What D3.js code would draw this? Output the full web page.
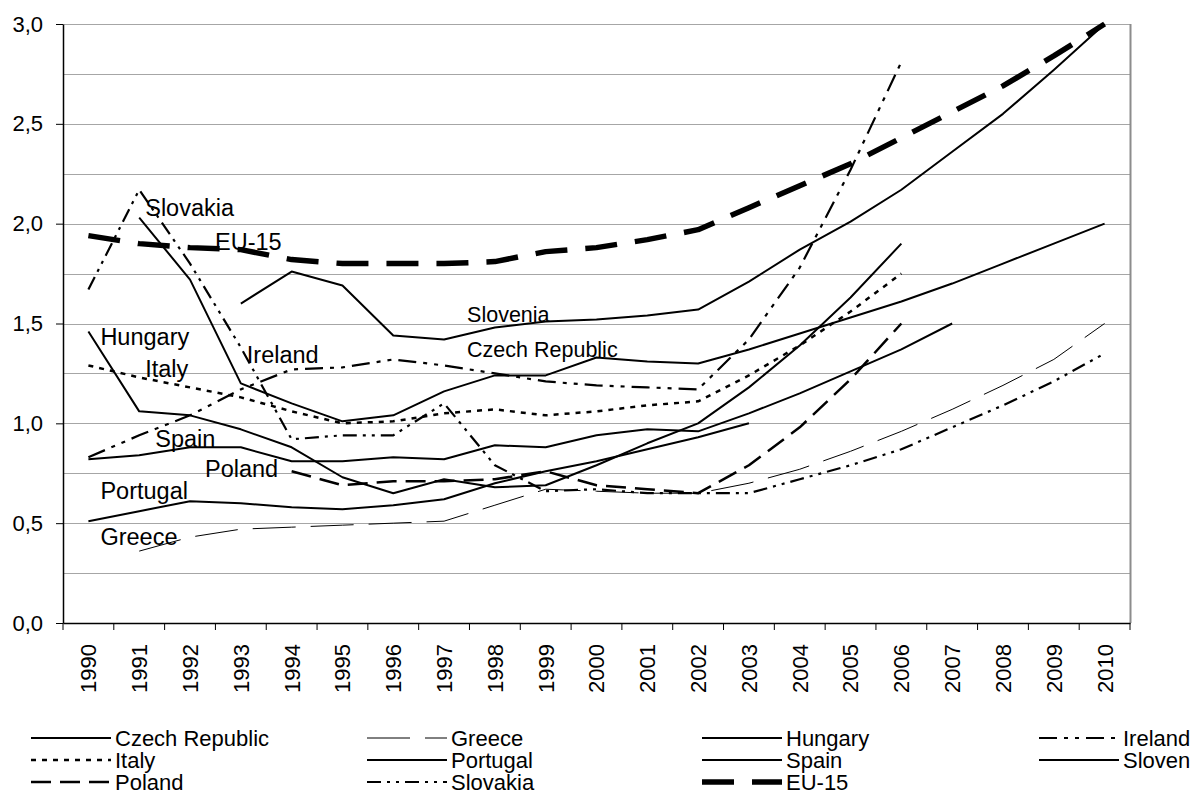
<!DOCTYPE html>
<html>
<head>
<meta charset="utf-8">
<script src="https://cdn.jsdelivr.net/npm/d3@7"></script>
<style>
  body { margin: 0; background: #fff; }
  svg { display: block; font-family: "Liberation Sans", Arial, sans-serif; }
</style>
</head>
<body>
<svg id="chart" width="1190" height="794"></svg>
<script>
// categories
const years = ["1990", "1991", "1992", "1993", "1994", "1995", "1996", "1997", "1998", "1999", "2000",
               "2001", "2002", "2003", "2004", "2005", "2006", "2007", "2008", "2009", "2010"];
const yTicks = [0, 0.5, 1, 1.5, 2, 2.5, 3];
const yGrid = [0.25, 0.5, 0.75, 1, 1.25, 1.5, 1.75, 2, 2.25, 2.5, 2.75, 3];

// series values (null = no data)
const czech    = [null, 2.03, 1.72, 1.20, 1.10, 1.01, 1.04, 1.16, 1.24, 1.24, 1.33, 1.31, 1.30, 1.37, 1.45, 1.53, 1.61, 1.70, 1.80, 1.90, 2.00];
const greece   = [null, 0.36, 0.43, 0.47, 0.48, 0.49, 0.50, 0.51, 0.59, 0.67, 0.66, 0.65, 0.65, 0.70, 0.77, 0.86, 0.96, 1.07, 1.19, 1.32, 1.50];
const hungary  = [1.46, 1.06, 1.04, 0.97, 0.88, 0.73, 0.65, 0.72, 0.68, 0.69, 0.79, 0.90, 1.00, 1.18, 1.39, 1.63, 1.90, null, null, null, null];
const ireland  = [0.83, 0.94, 1.04, 1.17, 1.27, 1.28, 1.32, 1.29, 1.25, 1.21, 1.19, 1.18, 1.17, 1.42, 1.78, 2.27, 2.81, null, null, null, null];
const italy    = [1.29, 1.23, 1.18, 1.13, 1.06, 1.00, 1.01, 1.05, 1.07, 1.04, 1.06, 1.09, 1.11, 1.24, 1.39, 1.56, 1.75, null, null, null, null];
const portugal = [0.51, 0.56, 0.61, 0.60, 0.58, 0.57, 0.59, 0.62, 0.70, 0.76, 0.81, 0.87, 0.93, 1.00, null, null, null, null, null, null, null];
const spain    = [0.82, 0.84, 0.88, 0.88, 0.81, 0.81, 0.83, 0.82, 0.89, 0.88, 0.94, 0.97, 0.96, 1.05, 1.15, 1.26, 1.37, 1.50, null, null, null];
const slovenia = [null, null, null, 1.60, 1.76, 1.69, 1.44, 1.42, 1.48, 1.51, 1.52, 1.54, 1.57, 1.71, 1.87, 2.01, 2.17, 2.36, 2.55, 2.77, 3.00];
const poland   = [null, null, null, null, 0.76, 0.69, 0.71, 0.71, 0.72, 0.76, 0.69, 0.67, 0.65, 0.79, 0.98, 1.22, 1.50, null, null, null, null];
const slovakia = [1.67, 2.17, 1.80, 1.38, 0.92, 0.94, 0.94, 1.10, 0.79, 0.66, 0.67, 0.65, 0.65, 0.65, 0.72, 0.79, 0.87, 0.98, 1.09, 1.21, 1.35];
const eu15     = [1.94, 1.90, 1.88, 1.87, 1.82, 1.80, 1.80, 1.80, 1.81, 1.86, 1.88, 1.92, 1.97, 2.08, 2.19, 2.30, 2.43, 2.56, 2.69, 2.84, 3.00];

// legend order (row by row, 4 columns)
const seriesNames = ["Czech Republic", "Greece", "Hungary", "Ireland", "Italy", "Portugal",
                     "Spain", "Slovenia", "Poland", "Slovakia", "EU-15"];
const seriesValues = [czech, greece, hungary, ireland, italy, portugal, spain, slovenia, poland, slovakia, eu15];

// labels written inside the plot: [text, year, value]
const inlineLabels = [
    ["Slovakia", "1991", 2.04], ["EU-15", "1992", 1.87], ["Hungary", "1990", 1.39],
    ["Italy", "1991", 1.23], ["Ireland", "1993", 1.30], ["Spain", "1991", 0.88],
    ["Poland", "1992", 0.73], ["Portugal", "1990", 0.62], ["Greece", "1990", 0.39],
    ["Slovenia", "1997", 1.51], ["Czech Republic", "1997", 1.33]
];

const styles = {
    "Czech Republic": { w: 2, dash: null },
    "Greece":   { w: 1, dash: "43,15" },
    "Hungary":  { w: 2, dash: null },
    "Ireland":  { w: 2.2, dash: "18,7,4,7,4,7" },
    "Italy":    { w: 2.5, dash: "5,6" },
    "Portugal": { w: 2, dash: null },
    "Spain":    { w: 2, dash: null },
    "Slovenia": { w: 2, dash: null },
    "Poland":   { w: 2.5, dash: "20,9" },
    "Slovakia": { w: 2.2, dash: "14,6,3,6,3,6" },
    "EU-15":    { w: 5.5, dash: "32,18" }
};
const labelShift = { "Slovakia": 6, "EU-15": 25, "Hungary": 12, "Italy": 6, "Ireland": 6, "Spain": 16,
                     "Poland": 15, "Portugal": 12, "Greece": 12, "Slovenia": 23, "Czech Republic": 23 };

const svg = d3.select("#chart");
const plotLeft = 63, plotRight = 1130, plotTop = 24, plotBottom = 623;

const x = d3.scaleBand().domain(years).range([plotLeft, plotRight]);
const y = d3.scaleLinear().domain([0, 3]).range([plotBottom, plotTop]);
const cx = yr => x(yr) + x.bandwidth() / 2;

// grid
svg.append("g").selectAll("line").data(yGrid).join("line")
    .attr("x1", plotLeft).attr("x2", plotRight)
    .attr("y1", d => Math.round(y(d)) + 0.5).attr("y2", d => Math.round(y(d)) + 0.5)
    .attr("stroke", "#a6a6a6").attr("stroke-width", 1);

// frame right side
svg.append("line")
    .attr("x1", plotRight + 0.5).attr("x2", plotRight + 0.5)
    .attr("y1", plotTop).attr("y2", plotBottom)
    .attr("stroke", "#8c8c8c").attr("stroke-width", 2);

// y axis
const yAxis = svg.append("g")
    .attr("transform", `translate(${plotLeft},0)`)
    .call(d3.axisLeft(y).tickValues(yTicks).tickSize(7).tickSizeOuter(0)
        .tickFormat(d => d3.format(".1f")(d).replace(".", ",")));
yAxis.select(".domain").attr("stroke", "#000").attr("stroke-width", 1.5);
yAxis.selectAll(".tick line").attr("stroke", "#000");
yAxis.selectAll("text").attr("font-size", 22).attr("fill", "#000").attr("x", -20)
    .attr("font-family", "Liberation Sans, Arial, sans-serif");

// x axis (ticks between categories)
const xAxis = svg.append("g")
    .attr("transform", `translate(0,${plotBottom})`)
    .call(d3.axisBottom(x).tickSize(0).tickSizeOuter(0).tickFormat(""));
xAxis.select(".domain").attr("stroke", "#000").attr("stroke-width", 1.5);
xAxis.selectAll(".tick").remove();

const bounds = years.map(d => x(d)).concat([plotRight]);
svg.append("g").selectAll("line").data(bounds).join("line")
    .attr("x1", d => d).attr("x2", d => d)
    .attr("y1", plotBottom).attr("y2", plotBottom + 7)
    .attr("stroke", "#000");

svg.append("g").selectAll("text").data(years).join("text")
    .attr("transform", d => `translate(${cx(d)},${plotBottom + 21}) rotate(-90)`)
    .attr("dy", "0.36em")
    .attr("text-anchor", "end")
    .attr("font-size", 22)
    .text(d => d);

// lines
const line = d3.line()
    .defined(d => d.v != null)
    .x(d => cx(d.yr))
    .y(d => y(d.v));

seriesNames.forEach((name, k) => {
    const pts = seriesValues[k].map((v, i) => ({ yr: years[i], v }));
    svg.append("path")
        .datum(pts)
        .attr("fill", "none")
        .attr("stroke", "#000")
        .attr("stroke-width", styles[name].w)
        .attr("stroke-dasharray", styles[name].dash)
        .attr("stroke-linejoin", "round")
        .attr("d", line);
});

// inline labels
svg.append("g").selectAll("text").data(inlineLabels).join("text")
    .attr("x", d => cx(d[1]) + labelShift[d[0]])
    .attr("y", d => y(d[2]))
    .attr("font-size", d => (d[0] === "Slovenia" || d[0] === "Czech Republic") ? 21.5 : 23.5)
    .text(d => d[0]);

// legend
const colX = [31, 367, 702, 1039];
const rowY = [738, 760, 782];
const legend = svg.append("g");
seriesNames.forEach((name, k) => {
    const lx = colX[k % 4], ly = rowY[Math.floor(k / 4)];
    legend.append("line")
        .attr("x1", lx).attr("x2", lx + 80)
        .attr("y1", ly).attr("y2", ly)
        .attr("stroke", "#000")
        .attr("stroke-width", styles[name].w)
        .attr("stroke-dasharray", styles[name].dash);
    legend.append("text")
        .attr("x", lx + 84).attr("y", ly)
        .attr("dy", "0.35em")
        .attr("font-size", 22)
        .text(name);
});
</script>
</body>
</html>
